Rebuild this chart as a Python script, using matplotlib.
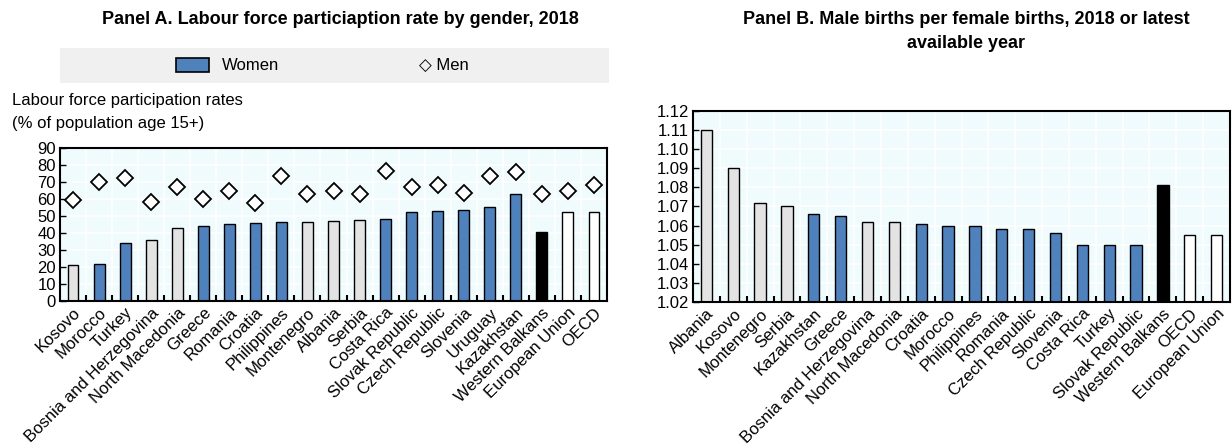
import matplotlib.pyplot as plt
from matplotlib.patches import Rectangle
import numpy as np

plt.rcParams['font.family'] = ['Liberation Sans', 'DejaVu Sans']

BLUE = '#4F81BD'
GREY = '#E3E3E3'
BG = '#F0FBFE'

# Panel A data
a_countries = ["Kosovo", "Morocco", "Turkey", "Bosnia and Herzegovina", "North Macedonia",
               "Greece", "Romania", "Croatia", "Philippines", "Montenegro", "Albania",
               "Serbia", "Costa Rica", "Slovak Republic", "Czech Republic", "Slovenia",
               "Uruguay", "Kazakhstan", "Western Balkans", "European Union", "OECD"]
a_women = [21.2, 21.8, 34.3, 35.6, 43.1, 44.3, 45.4, 45.6, 46.2, 46.6, 46.8,
           47.6, 48.3, 52.4, 53.0, 53.4, 55.5, 62.7, 40.3, 52.4, 52.1]
a_men = [59.6, 69.9, 72.4, 58.3, 67.0, 59.8, 64.9, 57.7, 73.4, 62.9, 64.7,
         62.9, 76.3, 67.2, 68.5, 63.3, 73.4, 75.9, 62.7, 65.0, 68.5]

# Panel B data
b_countries = ["Albania", "Kosovo", "Montenegro", "Serbia", "Kazakhstan", "Greece",
               "Bosnia and Herzegovina", "North Macedonia", "Croatia", "Morocco",
               "Philippines", "Romania", "Czech Republic", "Slovenia", "Costa Rica",
               "Turkey", "Slovak Republic", "Western Balkans", "OECD", "European Union"]
b_ratio = [1.110, 1.090, 1.072, 1.070, 1.066, 1.065, 1.062, 1.062, 1.061, 1.060,
           1.060, 1.058, 1.058, 1.056, 1.050, 1.050, 1.050, 1.081, 1.055, 1.055]

wb_members = ["Kosovo", "Bosnia and Herzegovina", "North Macedonia", "Montenegro",
              "Albania", "Serbia"]


def bar_colour(name):
    if name == "Western Balkans":
        return 'black'
    if name in ("European Union", "OECD"):
        return 'white'
    if name in wb_members:
        return GREY
    return BLUE


def style_axes(ax, n):
    ax.set_facecolor(BG)
    ax.set_xlim(-0.5, n - 0.5)
    ax.set_xticks(np.arange(n))
    ax.set_xticks(np.arange(n - 1) + 0.5, minor=True)
    ax.tick_params(axis='x', which='major', length=0, labelsize=12, pad=3)
    ax.tick_params(axis='x', which='minor', direction='in', length=4, width=1.5)
    ax.tick_params(axis='y', which='major', direction='in', length=4, width=1,
                   labelsize=12, pad=3)
    ax.grid(axis='y', which='major', color='white', linewidth=1.2)
    ax.grid(axis='x', which='minor', color='white', linewidth=1.2)
    ax.set_axisbelow(True)
    for s in ax.spines.values():
        s.set_linewidth(1.5)
        s.set_color('black')


W, H = 1232, 445
fig = plt.figure(figsize=(W / 100, H / 100), dpi=100)

# Panel A
axA = fig.add_axes([60 / W, 1 - 301 / H, 547 / W, 153 / H])
xa = np.arange(len(a_countries))
axA.bar(xa, a_women, width=0.42, color=[bar_colour(c) for c in a_countries],
        edgecolor='black', linewidth=1, zorder=2)
axA.plot(xa, a_men, linestyle='none', marker='D', markersize=8.5, markerfacecolor='white',
         markeredgecolor='black', markeredgewidth=1.3, zorder=3)
axA.set_ylim(0, 90)
axA.set_yticks(range(0, 91, 10))
style_axes(axA, len(a_countries))
axA.set_xticklabels(a_countries, rotation=45, ha='right', rotation_mode='anchor')

fig.text(340 / W, 1 - 20 / H, "Panel A. Labour force particiaption rate by gender, 2018",
         ha='center', va='center', fontsize=13, fontweight='bold')
fig.text(12 / W, 1 - 101 / H, "Labour force participation rates", ha='left',
         va='center', fontsize=12)
fig.text(12 / W, 1 - 124 / H, "(% of population age 15+)", ha='left',
         va='center', fontsize=12)

# legend band
fig.patches.append(Rectangle((60 / W, 1 - 83 / H), 549 / W, 35 / H,
                             transform=fig.transFigure, facecolor='#F0F0F0',
                             edgecolor='none', zorder=0))
fig.patches.append(Rectangle((176 / W, 1 - 72 / H), 33 / W, 14 / H,
                             transform=fig.transFigure, facecolor=BLUE,
                             edgecolor='black', linewidth=1.2, zorder=1))
fig.text(222 / W, 1 - 65.5 / H, "Women", ha='left', va='center', fontsize=12)
fig.text(419 / W, 1 - 65.5 / H, "\u25C7 Men", ha='left', va='center', fontsize=12,
         family=['DejaVu Sans'] if False else ['Liberation Sans', 'DejaVu Sans'])

# Panel B
axB = fig.add_axes([693 / W, 1 - 302 / H, 537 / W, 191 / H])
xb = np.arange(len(b_countries))
axB.bar(xb, b_ratio, width=0.42, color=[bar_colour(c) for c in b_countries],
        edgecolor='black', linewidth=1, zorder=2)
b_ticks = np.round(np.arange(1.02, 1.1201, 0.01), 2)
axB.set_ylim(1.02, 1.12)
axB.set_yticks(b_ticks)
axB.set_yticklabels([f"{v:.2f}" for v in b_ticks])
style_axes(axB, len(b_countries))
axB.set_xticklabels(b_countries, rotation=45, ha='right', rotation_mode='anchor')

fig.text(966 / W, 1 - 20 / H, "Panel B. Male births per female births, 2018 or latest",
         ha='center', va='center', fontsize=13, fontweight='bold')
fig.text(966 / W, 1 - 43 / H, "available year",
         ha='center', va='center', fontsize=13, fontweight='bold')

fig.savefig("out.png", dpi=100)
